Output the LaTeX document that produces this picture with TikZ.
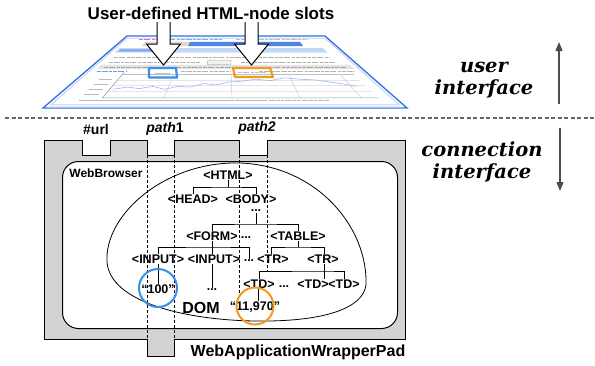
\documentclass[tikz,border=0pt]{standalone}
\usepackage{fontspec}
\setmainfont{Liberation Sans}
\newfontfamily\ifacefont{DejaVu Serif}
\usetikzlibrary{arrows.meta}

\definecolor{padgray}{HTML}{D3D3D3}
\definecolor{slotblue}{HTML}{3B8EEA}
\definecolor{slotorange}{HTML}{F29A1C}
\definecolor{winblue}{HTML}{2E6FE3}

% perspective coordinates on the tilted browser window: u across, v down
\pgfkeys{/scr/.cd, u/.store in=\scrU, v/.store in=\scrV, u=0, v=0}
\tikzdeclarecoordinatesystem{scr}{%
  \pgfkeys{/scr/.cd,#1}%
  \pgfmathsetmacro\scrX{127-84*\scrV+\scrU*(198+166*\scrV)}%
  \pgfmathsetmacro\scrY{36+72*\scrV}%
  \pgfpoint{\scrX pt}{-\scrY pt}}

\tikzset{
  tn/.style={font=\fontsize{12.5}{13}\selectfont\bfseries, inner sep=0.6pt},
  vn/.style={font=\fontsize{12.5}{13}\selectfont\bfseries, inner sep=0.6pt},
  tl/.style={line width=0.8pt},
  lab/.style={font=\fontsize{14}{15}\selectfont\bfseries, inner sep=0pt},
  iface/.style={font=\fontsize{19.5}{21}\selectfont\ifacefont\bfseries\itshape, inner sep=0pt, anchor=base},
  pathline/.style={dashed, dash pattern=on 3pt off 2pt, line width=0.7pt},
  slot/.style={circle, line width=2pt, minimum size=38pt, inner sep=0pt},
  blockarrow/.style={fill=white, draw=black, line width=1pt, line join=miter},
  faketext/.style={line width=1.1pt, dash pattern=on 4pt off 1pt on 6pt off 1.5pt on 3pt off 1pt},
  vaxis/.style={-{Triangle[length=9pt,width=7pt]}, draw=black!70, line width=1.3pt}
}

\begin{document}
\begin{tikzpicture}[x=1pt,y=-1pt]
\useasboundingbox (0,0) rectangle (595,365);

% ---------- browser screenshot in perspective ----------
\filldraw[fill=white, draw=winblue, line width=1.3pt]
  (scr cs:u=0,v=0) -- (scr cs:u=1,v=0) -- (scr cs:u=1,v=1) -- (scr cs:u=0,v=1) -- cycle;
\draw[winblue!35, line width=0.8pt]
  (scr cs:u=.012,v=.03) -- (scr cs:u=.988,v=.03) -- (scr cs:u=.988,v=.95) -- (scr cs:u=.012,v=.95) -- cycle;
\fill[winblue!12]
  (scr cs:u=.012,v=.95) -- (scr cs:u=.988,v=.95) -- (scr cs:u=.988,v=.99) -- (scr cs:u=.012,v=.99) -- cycle;
% title bar text
\draw[magenta!60, faketext] (scr cs:u=.08,v=.05) -- (scr cs:u=.2,v=.05);
\draw[winblue!60, faketext, line width=.8pt] (scr cs:u=.2,v=.05) -- (scr cs:u=.48,v=.05);
\draw[gray!50, faketext, line width=.8pt] (scr cs:u=.55,v=.05) -- (scr cs:u=.9,v=.05);
% navigation bar
\fill[gray!30] (scr cs:u=.12,v=.08) -- (scr cs:u=.33,v=.08) -- (scr cs:u=.33,v=.14) -- (scr cs:u=.12,v=.14) -- cycle;
\fill[winblue!85] (scr cs:u=.33,v=.08) -- (scr cs:u=.85,v=.08) -- (scr cs:u=.85,v=.14) -- (scr cs:u=.33,v=.14) -- cycle;
% quote header bar
\fill[winblue!28] (scr cs:u=.03,v=.17) -- (scr cs:u=.93,v=.17) -- (scr cs:u=.93,v=.23) -- (scr cs:u=.03,v=.23) -- cycle;
\fill[winblue!65] (scr cs:u=.04,v=.185) -- (scr cs:u=.28,v=.185) -- (scr cs:u=.28,v=.215) -- (scr cs:u=.04,v=.215) -- cycle;
% text lines and button
\draw[gray!60, faketext] (scr cs:u=.05,v=.30) -- (scr cs:u=.92,v=.30);
\draw[gray!60, faketext] (scr cs:u=.05,v=.37) -- (scr cs:u=.40,v=.37);
\draw[gray!60, faketext] (scr cs:u=.56,v=.37) -- (scr cs:u=.92,v=.37);
\draw[gray!60, fill=gray!10, line width=.5pt]
  (scr cs:u=.43,v=.335) -- (scr cs:u=.52,v=.335) -- (scr cs:u=.52,v=.395) -- (scr cs:u=.43,v=.395) -- cycle;
% table header and data row
\fill[gray!22] (scr cs:u=.03,v=.40) -- (scr cs:u=.97,v=.40) -- (scr cs:u=.97,v=.46) -- (scr cs:u=.03,v=.46) -- cycle;
\draw[gray!70, faketext, line width=.9pt] (scr cs:u=.05,v=.43) -- (scr cs:u=.95,v=.43);
\draw[winblue!70, faketext, line width=.9pt] (scr cs:u=.04,v=.495) -- (scr cs:u=.15,v=.495);
\draw[gray!60, faketext, line width=.9pt] (scr cs:u=.34,v=.495) -- (scr cs:u=.52,v=.495);
\draw[gray!60, faketext, line width=.9pt] (scr cs:u=.62,v=.495) -- (scr cs:u=.96,v=.495);
% chart
\foreach \gv in {.61,.69,.77}
  \draw[gray!20, line width=.4pt] (scr cs:u=.14,v=\gv) -- (scr cs:u=.95,v=\gv);
\foreach \gu in {.32,.52,.72,.9}
  \draw[gray!40, line width=.5pt] (scr cs:u=\gu,v=.53) -- (scr cs:u=\gu,v=.86);
\draw[gray!50, line width=.5pt] (scr cs:u=.14,v=.53) -- (scr cs:u=.95,v=.53);
\draw[gray!75, line width=.6pt] (scr cs:u=.14,v=.50) -- (scr cs:u=.14,v=.86) -- (scr cs:u=.95,v=.86);
\draw[winblue!50, line width=.6pt]
  (scr cs:u=.15,v=.74) -- (scr cs:u=.19,v=.71) -- (scr cs:u=.23,v=.73) -- (scr cs:u=.27,v=.70)
  -- (scr cs:u=.31,v=.74) -- (scr cs:u=.35,v=.70) -- (scr cs:u=.39,v=.71) -- (scr cs:u=.43,v=.66)
  -- (scr cs:u=.47,v=.68) -- (scr cs:u=.51,v=.64) -- (scr cs:u=.55,v=.63) -- (scr cs:u=.60,v=.60)
  -- (scr cs:u=.65,v=.62) -- (scr cs:u=.70,v=.58) -- (scr cs:u=.75,v=.60) -- (scr cs:u=.80,v=.61)
  -- (scr cs:u=.86,v=.65) -- (scr cs:u=.92,v=.70);
\foreach \lv in {.60,.67,.74,.81}
  \draw[gray!55, line width=.9pt] (scr cs:u=.075,v=\lv) -- (scr cs:u=.12,v=\lv);
\foreach \lu in {.20,.44,.62,.80}
  \draw[gray!55, faketext, line width=.8pt] (scr cs:u=\lu,v=.9) -- (scr cs:u=\lu+.08,v=.9);
% user-defined slots
\draw[slotblue, line width=2.2pt, line join=round] (149,68) -- (176,68) -- (177,77.5) -- (149,77.5) -- cycle;
\draw[gray!50, line width=.8pt] (155,73) -- (170,73);
\draw[slotorange, line width=2.2pt, line join=round] (233,68) -- (270,68) -- (273,77) -- (235,77) -- cycle;
\draw[gray!50, faketext, line width=.8pt] (238,72.5) -- (266,72.5);

% block arrows pointing at the slots
\filldraw[blockarrow] (157,22) -- (157,44) -- (146.5,44) -- (163.5,65) -- (180.5,44) -- (170,44) -- (170,22);
\filldraw[blockarrow] (245,22) -- (245,44) -- (234.5,44) -- (251.5,65) -- (268.5,44) -- (258,44) -- (258,22);

\node[font=\fontsize{17}{20}\selectfont\bfseries, inner sep=0pt] (title) at (211,13) {User-defined HTML-node slots};

% ---------- separator between the two interfaces ----------
\draw[black!60, line width=1.1pt, dash pattern=on 4pt off 2.5pt] (5,118) -- (595,118);

\node[iface] (ui1) at (484,72) {user};
\node[iface] (ui2) at (484,94) {interface};
\node[iface] (ci1) at (482,156) {connection};
\node[iface] (ci2) at (482,178) {interface};
\coordinate (upFrom) at (559,104);
\coordinate (upTo) at (559,42);
\coordinate (dnFrom) at (560,128);
\coordinate (dnTo) at (560,191);
\draw[vaxis] (upFrom) -- (upTo);
\draw[vaxis] (dnFrom) -- (dnTo);

% ---------- WebApplicationWrapperPad ----------
\filldraw[fill=padgray, draw=black, line width=1pt]
  (44,140) -- (82,140) -- (82,155) -- (110,155) -- (110,140) -- (147,140) -- (147,155)
  -- (174,155) -- (174,140) -- (239,140) -- (239,155) -- (267,155) -- (267,140)
  -- (405,140) -- (405,339) -- (174,339) -- (174,356) -- (147,356) -- (147,339)
  -- (44,339) -- cycle;
\node[draw=black, fill=white, line width=1pt, rounded corners=16pt, inner sep=0pt,
      minimum width=335pt, minimum height=167pt, anchor=north west] (browser) at (62,161) {};

% DOM region
\draw[line width=.8pt] (366,285) .. controls (368,228) and (318,166) .. (240,163)
  .. controls (165,161) and (104,215) .. (107,262)
  .. controls (110,302) and (185,320) .. (255,321)
  .. controls (325,322) and (363,308) .. (366,285);

% slot paths
\draw[pathline] (147,155) -- (147,356);
\draw[pathline] (174,155) -- (174,356);
\draw[pathline] (239,155) -- (239,294);
\draw[pathline] (267,155) -- (267,271);

% labels of the pad
\node[lab] (url) at (96,129) {\#url};
\node[lab] (p1) at (165,129) {\textit{path}1};
\node[lab] (p2) at (257,128) {\textit{path2}};
\node[font=\fontsize{12}{13}\selectfont\bfseries, inner sep=0pt] (wbl) at (106,173) {WebBrowser};
\node[font=\fontsize{16}{18}\selectfont\bfseries, inner sep=0pt] (pad) at (298,352) {WebApplicationWrapperPad};

% DOM tree
\node[tn] (html) at (228,175) {<HTML>};
\node[tn] (head) at (193,199) {<HEAD>};
\node[tn] (body) at (251,199) {<BODY>};
\node[tn] (bdots) at (256,211) {...};
\node[tn] (form) at (212,236) {<FORM>};
\node[tn] (fdots) at (246,238) {...};
\node[tn] (table) at (298,236) {<TABLE>};
\node[tn] (in1) at (158,259) {<INPUT>};
\node[tn] (in2) at (214,259) {<INPUT>};
\node[tn] (idots) at (249,261) {...};
\node[tn] (tr1) at (273,259) {<TR>};
\node[tn] (tr2) at (323,259) {<TR>};
\node[tn] (td1) at (259,284) {<TD>};
\node[tn] (tdots) at (284,287) {...};
\node[tn] (td2) at (313,284) {<TD>};
\node[tn] (td3) at (344,284) {<TD>};
\node[vn] (v100) at (158,289) {“100”};
\node[tn] (vdash) at (212,290) {...};
\node[vn] (v11970) at (255,307) {“11,970”};
\node[font=\fontsize{16}{18}\selectfont\bfseries, inner sep=0pt] (dom) at (201,308) {DOM};

\draw[tl] (html.south) -- (html.south |- 0,187) coordinate (j1);
\draw[tl] (head.north) |- (j1) -| ([xshift=5pt]body.north);
\draw[tl] (bdots.south) -- (bdots.south |- 0,224) coordinate (j2);
\draw[tl] (form.north) |- (j2) -| (table.north);
\draw[tl] (form.south) -- (form.south |- 0,247) coordinate (j3);
\draw[tl] (in1.north) |- (j3) -| (idots.north);
\draw[tl] (j3) -- (in2.north -| j3);
\draw[tl] (table.south) -- (table.south |- 0,247) coordinate (j4);
\draw[tl] ([xshift=-2pt]tr1.north) |- (j4) -| ([xshift=1pt]tr2.north);
\draw[tl] ([xshift=1pt]tr2.south) -- ([xshift=1pt]tr2.south |- 0,271) coordinate (j5);
\draw[tl] (td1.north) |- (j5) -| (td3.north);
\draw[tl] (j5) -- (j5 |- td2.north);
\draw[tl] (in1.south) -- (v100.north);
\draw[tl] (in2.south -| vdash) -- (vdash.north);
\draw[tl] ([xshift=-1pt]td1.south) -- ([xshift=-1pt]td1.south |- v11970.north);

% highlighted slot values
\node[slot, draw=slotblue] (c100) at (158,288) {};
\node[slot, draw=slotorange, minimum size=37pt] (c11970) at (255,306) {};
\end{tikzpicture}
\end{document}
